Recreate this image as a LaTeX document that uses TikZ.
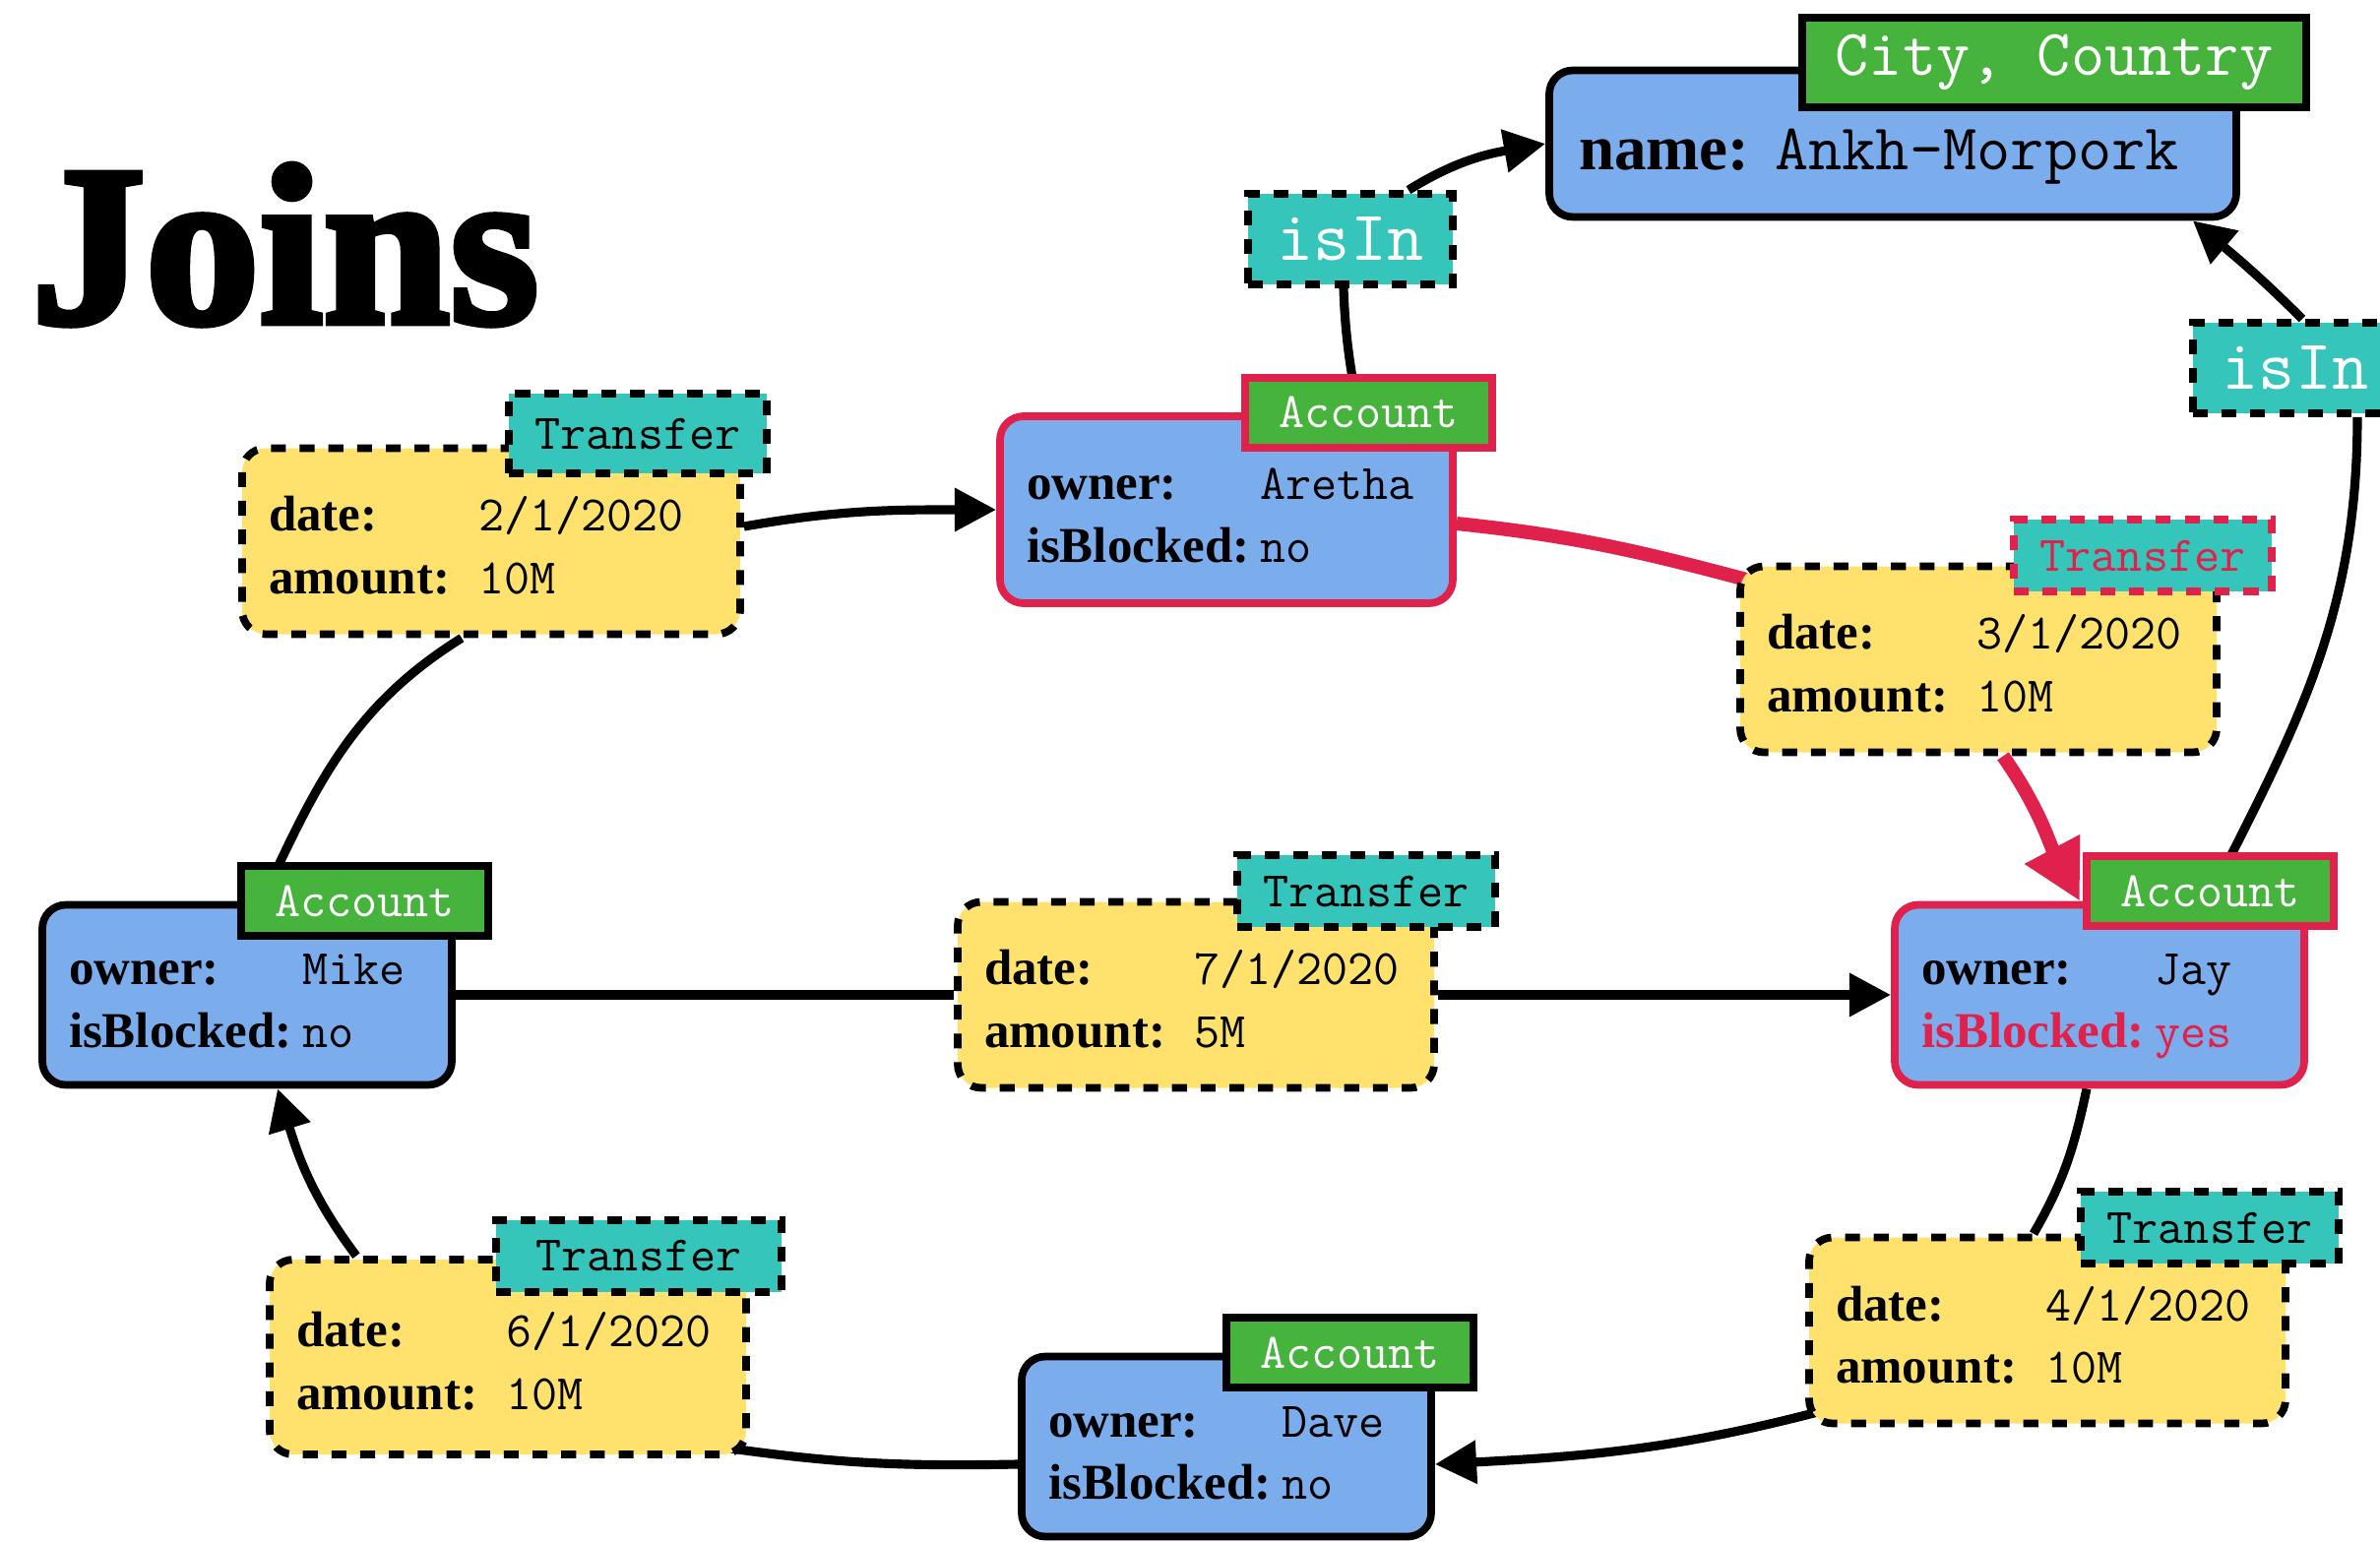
\documentclass[tikz,border=0pt]{standalone}
\usepackage{fontspec}
\setmainfont{Liberation Serif}
\newfontfamily\titlef[FakeBold=3]{Liberation Serif}
\usetikzlibrary{arrows.meta,backgrounds}

\definecolor{acctblue}{HTML}{7BACEB}
\definecolor{taggreen}{HTML}{46B33D}
\definecolor{tagteal}{HTML}{36C5BA}
\definecolor{xferyellow}{HTML}{FFE26E}
\definecolor{alertred}{HTML}{E0214B}

\newcommand{\monof}{\ttfamily\mdseries}
\newcommand{\keyf}{\fontsize{14.5}{18.2}\selectfont\bfseries}
\newcommand{\valf}{\monof\fontsize{14.4}{18.2}\selectfont}
\newcommand{\acctrows}[3][black]{\rule{0pt}{16.5pt}\makebox[2.37cm][l]{owner:}{\valf #2}\\{\color{#1}\makebox[2.37cm][l]{isBlocked:}{\valf #3}}\rule[-4pt]{0pt}{4pt}}
\newcommand{\xferrows}[2]{\rule{0pt}{16.5pt}\makebox[2.13cm][l]{date:}{\valf #1}\\\makebox[2.13cm][l]{amount:}{\valf #2}\rule[-4pt]{0pt}{4pt}}

\begin{document}
\begin{tikzpicture}[
    account/.style={rectangle, rounded corners=0.24cm, draw=black, line width=2.2pt, fill=acctblue,
      inner xsep=0.27cm, text width=3.62cm, minimum height=1.83cm, align=left, font=\keyf},
    transfer/.style={account, fill=xferyellow, dash pattern=on 4.3pt off 4pt, text width=4.3cm, minimum height=1.89cm},
    acctag/.style={rectangle, draw=black, line width=2.2pt, fill=taggreen, text=white, inner sep=0pt,
      minimum width=2.51cm, minimum height=0.71cm, font=\monof\fontsize{14.4}{16}\selectfont},
    xfertag/.style={acctag, fill=tagteal, text=black, dash pattern=on 4.3pt off 4pt, minimum width=2.62cm, minimum height=0.73cm},
    isin/.style={xfertag, text=white, minimum width=2.08cm, minimum height=0.92cm, font=\monof\fontsize{20.5}{22}\selectfont},
    link/.style={line width=2.6pt},
    redlink/.style={draw=alertred, line width=4pt},
    arr/.style={-{Triangle[length=12pt,width=12pt]}},
    redarr/.style={-{Triangle[length=17pt,width=17pt]}}
  ]
  \useasboundingbox (0,0) rectangle (24.18,-15.67);

  \node[anchor=base west, inner sep=0pt, font=\titlef\bfseries\fontsize{66}{70}\selectfont] (title) at (0.31,-3.28) {Joins};

  \node[account, draw=alertred, text width=4.06cm, minimum height=1.90cm] (aretha) at (12.46,-5.18) {\acctrows{Aretha}{no}};
  \node[acctag, draw=alertred, anchor=east] (aretha-tag) at ([xshift=4mm]aretha.north east) {Account};

  \node[account] (mike) at (2.51,-10.11) {\acctrows{Mike}{no}};
  \node[acctag, anchor=east] (mike-tag) at ([xshift=3.7mm]mike.north east) {Account};

  \node[account, draw=alertred] (jay) at (21.33,-10.11) {\acctrows[alertred]{Jay}{yes}};
  \node[acctag, draw=alertred, anchor=east] (jay-tag) at ([shift={(3mm,1mm)}]jay.north east) {Account};

  \node[account] (dave) at (12.46,-14.70) {\acctrows{Dave}{no}};
  \node[acctag, anchor=east] (dave-tag) at ([xshift=4.3mm]dave.north east) {Account};

  \node[transfer, text width=4.52cm] (t21) at (4.99,-5.50) {\xferrows{2/1/2020}{10M}};
  \node[xfertag, anchor=east, minimum height=0.81cm] (t21-tag) at ([shift={(2.7mm,1.1mm)}]t21.north east) {Transfer};

  \node[transfer] (t31) at (20.10,-6.70) {\xferrows{3/1/2020}{10M}};
  \node[xfertag, draw=alertred, text=alertred, anchor=east] (t31-tag) at ([shift={(5.6mm,0.7mm)}]t31.north east) {Transfer};

  \node[transfer] (t71) at (12.15,-10.11) {\xferrows{7/1/2020}{5M}};
  \node[xfertag, anchor=east] (t71-tag) at ([shift={(6.2mm,0.7mm)}]t71.north east) {Transfer};

  \node[transfer, minimum height=1.98cm] (t61) at (5.16,-13.79) {\xferrows{6/1/2020}{10M}};
  \node[xfertag, anchor=east, minimum width=2.9cm] (t61-tag) at ([xshift=3.6mm]t61.north east) {Transfer};

  \node[transfer] (t41) at (20.80,-13.52) {\xferrows{4/1/2020}{10M}};
  \node[xfertag, anchor=east] (t41-tag) at ([shift={(5.4mm,0.6mm)}]t41.north east) {Transfer};

  \node[account, text width=6.38cm, inner xsep=0.3cm, minimum height=1.49cm] (city) at (19.23,-1.46)
    {\rule{0pt}{19pt}{\fontsize{18.5}{20}\selectfont name:}\hspace{0.26cm}{\monof\fontsize{18.9}{20}\selectfont Ankh-Morpork}};
  \node[acctag, anchor=east, minimum width=5.12cm, minimum height=0.91cm, font=\monof\fontsize{18.9}{20}\selectfont]
    (city-tag) at ([shift={(7.1mm,0.4mm)}]city.north east) {City, Country};

  \node[isin] (isin1) at (13.72,-2.43) {isIn};
  \node[isin] (isin2) at (23.32,-3.74) {isIn};

  \begin{scope}[on background layer]
    \fill[white] (0,0) rectangle (24.18,-15.67);
    \draw[link] ([xshift=1.5mm]mike.north) to[out=65,in=212] ([xshift=-3mm]t21.south);
    \draw[link,arr] ([yshift=1.5mm]t21.east) to[out=10,in=180] (aretha);
    \draw[redlink] ([yshift=-1.4mm]aretha.east) to[out=-6,in=165] ([shift={(2mm,-2mm)}]t31.north west);
    \draw[redlink,redarr] ([xshift=2.5mm]t31.south) to[out=-55,in=118] ([xshift=-2mm]jay.north);
    \draw[link] (mike) -- (t71);
    \draw[link,arr] (t71) -- (jay);
    \draw[link] ([xshift=-1.3mm]jay.south) to[out=-102,in=60] ([xshift=-1.4mm]t41.north);
    \draw[link,arr] ([shift={(3mm,2mm)}]t41.south west) to[out=195,in=3] ([yshift=-1.8mm]dave.east);
    \draw[link] ([yshift=-1.8mm]dave.west) to[out=181,in=-8] ([shift={(-2mm,1mm)}]t61.south east);
    \draw[link,arr] ([xshift=-15.4mm]t61.north) to[out=127,in=-73] ([xshift=3.1mm]mike.south);
    \draw[link] ([xshift=13.4mm]aretha.north) to[out=100,in=-88] ([xshift=-0.7mm]isin1.south);
    \draw[link,arr] ([xshift=5.9mm]isin1.north) to[out=32,in=190] (city.west);
    \draw[link] ([xshift=11mm]jay.north) to[out=63,in=-90] ([xshift=6.3mm]isin2.south);
    \draw[link,arr] ([xshift=0.7mm]isin2.north) to[out=135,in=-40] ([xshift=-4.8mm]city.south east);
  \end{scope}
\end{tikzpicture}
\end{document}
